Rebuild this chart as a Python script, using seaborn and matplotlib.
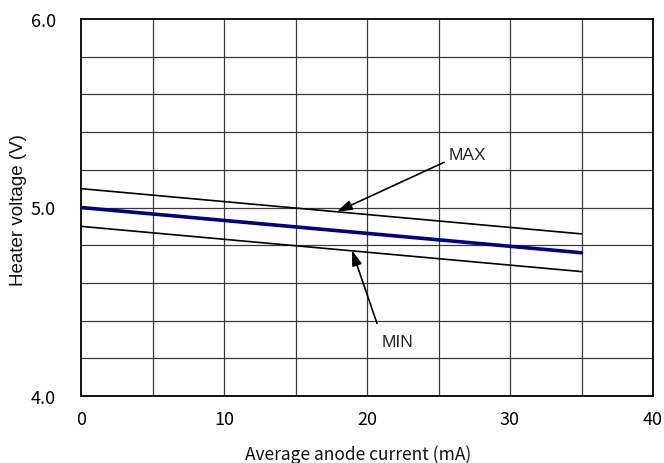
import matplotlib
matplotlib.use("Agg")
import matplotlib.pyplot as plt
import seaborn as sns
import pandas as pd

# Data
current_ma = [0, 35]
v_max = [5.10, 4.86]
v_typ = [5.00, 4.76]
v_min = [4.90, 4.66]
x_ticks = [0, 10, 20, 30, 40]
y_ticks = [4.0, 5.0, 6.0]

sns.set_theme(style="white")
plt.rcParams['font.family'] = ['Noto Sans CJK JP', 'DejaVu Sans']

fig = plt.figure(figsize=(6.64, 4.64), dpi=100)
ax = fig.add_axes([81/664, 1-397/464, (653-81)/664, (397-20)/464])

df = pd.DataFrame({
    "current": current_ma * 3,
    "voltage": v_max + v_typ + v_min,
    "series": ["MAX"] * 2 + ["TYP"] * 2 + ["MIN"] * 2,
})

# grid
for gx in range(5, 40, 5):
    ax.axvline(gx, color="#3a3a3a", lw=0.9, zorder=1)
for i in range(1, 10):
    ax.axhline(4.0 + 0.2 * i, color="#3a3a3a", lw=0.9, zorder=1)

sns.lineplot(data=df[df.series == "MAX"], x="current", y="voltage", color="black", lw=1.2, ax=ax, zorder=3)
sns.lineplot(data=df[df.series == "MIN"], x="current", y="voltage", color="black", lw=1.2, ax=ax, zorder=3)
sns.lineplot(data=df[df.series == "TYP"], x="current", y="voltage", color="#000080", lw=2.6, ax=ax, zorder=4)

ax.set_xlim(0, 40)
ax.set_ylim(4.0, 6.0)
ax.set_xticks(x_ticks)
ax.set_xticklabels([str(t) for t in x_ticks])
ax.set_yticks(y_ticks)
ax.set_yticklabels([f"{t:.1f}" for t in y_ticks])
ax.tick_params(axis="both", length=0, labelsize=13, colors="black")
ax.tick_params(axis="x", pad=10)
ax.tick_params(axis="y", pad=18)
for s in ax.spines.values():
    s.set_color("black")
    s.set_linewidth(1.3)

ax.set_xlabel("Average anode current (mA)", fontsize=12.5, color="#111111", va="center")
ax.xaxis.set_label_coords(0.484, -0.154)
ax.set_ylabel("Heater voltage (V)", fontsize=13.5, color="#111111", va="center",
              family=["Liberation Sans", "DejaVu Sans"])
ax.yaxis.set_label_coords(-0.110, 0.496)

arrow = dict(arrowstyle="-|>,head_length=0.9,head_width=0.3", color="black", lw=1.2,
             mutation_scale=10, shrinkA=0, shrinkB=0)
ax.annotate("", xy=(17.9, 4.978), xytext=(25.4, 5.24), arrowprops=arrow, zorder=5)
ax.text(25.7, 5.28, "MAX", fontsize=12.5, va="center", ha="left", family=["Liberation Sans", "DejaVu Sans"])
ax.annotate("", xy=(18.95, 4.772), xytext=(20.7, 4.385), arrowprops=arrow, zorder=5)
ax.text(21.0, 4.29, "MIN", fontsize=12.5, va="center", ha="left", family=["Liberation Sans", "DejaVu Sans"])

fig.savefig("out.png", dpi=100)
